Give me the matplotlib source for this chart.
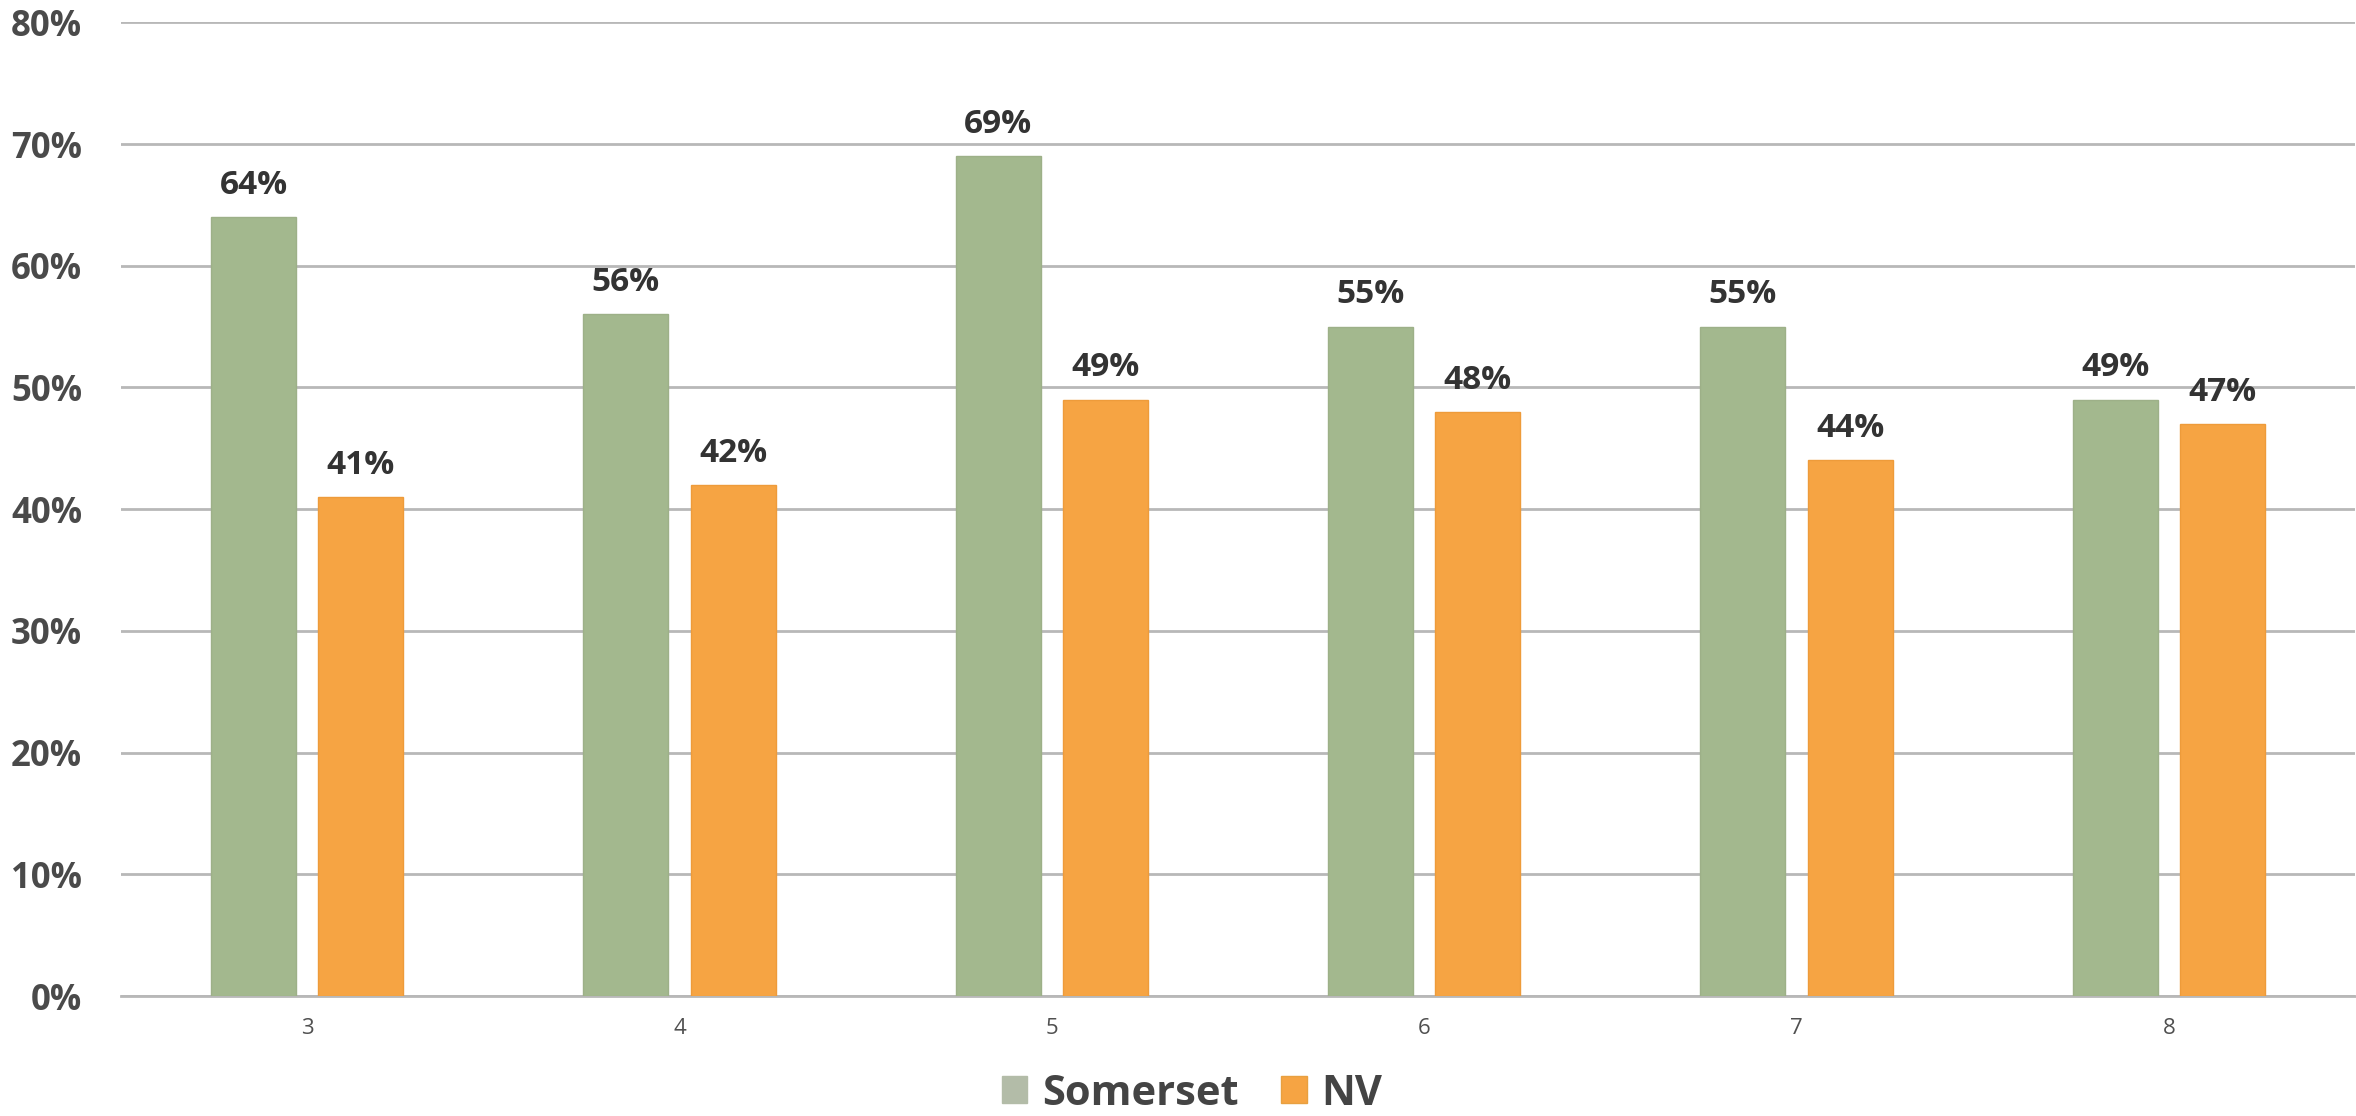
import matplotlib
matplotlib.use("Agg")
import matplotlib.pyplot as plt
import numpy as np
from matplotlib.patches import Patch

categories = ["3", "4", "5", "6", "7", "8"]
somerset = [64, 56, 69, 55, 55, 49]
nv = [41, 42, 49, 48, 44, 47]
series_names = ["Somerset", "NV"]
yticks = [0, 10, 20, 30, 40, 50, 60, 70, 80]

plt.rcParams['font.family'] = ['Open Sans', 'DejaVu Sans']

fig = plt.figure(figsize=(23.56, 11.16), dpi=100)
ax = fig.add_axes([121/2356, 0.1075, (2355-121)/2356, 0.98-0.1075])

x = np.arange(len(categories))
w = 0.228
off = 0.144
green = "#A3B88E"
orange = "#F6A443"
ax.bar(x - off, somerset, width=w, color=green, edgecolor="#9DB088", linewidth=1, zorder=3)
ax.bar(x + off, nv, width=w, color=orange, edgecolor="#EE9B3A", linewidth=1, zorder=3)

for xi, v in zip(x, somerset):
    ax.annotate(f"{v}%", (xi - off, v), xytext=(0, 11), textcoords="offset points",
                ha="center", va="bottom", fontsize=24, fontweight="bold", color="#333333")
for xi, v in zip(x, nv):
    ax.annotate(f"{v}%", (xi + off, v), xytext=(0, 11), textcoords="offset points",
                ha="center", va="bottom", fontsize=24, fontweight="bold", color="#333333")

ax.set_xlim(-0.5, 5.5)
ax.set_ylim(0, 80)
ax.set_yticks(yticks)
ax.set_yticklabels([f"{t}%" for t in yticks], fontsize=25, fontweight="bold", color="#4a4a4a")
ax.set_xticks(x)
ax.set_xticklabels(categories, fontsize=16, color="#505050")
ax.tick_params(axis="y", length=0, pad=28)
ax.tick_params(axis="x", length=0, pad=16)
ax.grid(axis="y", color="#B8B8B8", linewidth=2, zorder=0)
for s in ["top", "right", "left"]:
    ax.spines[s].set_visible(False)
ax.spines["bottom"].set_color("#B8B8B8")
ax.spines["bottom"].set_linewidth(2)

handles = [Patch(facecolor="#B3BCA8", edgecolor="#B3BCA8"), Patch(facecolor=orange, edgecolor="#E8A040")]
fig.legend(handles, series_names, loc="center", bbox_to_anchor=(1192/2356, 0.0197), ncol=2, frameon=False,
           prop={"size": 30, "weight": "bold"}, labelcolor="#444444", handlelength=0.62, handleheight=0.62,
           handletextpad=0.36, columnspacing=1.0, borderpad=0.1)

fig.savefig("out.png", dpi=100, facecolor="white")
